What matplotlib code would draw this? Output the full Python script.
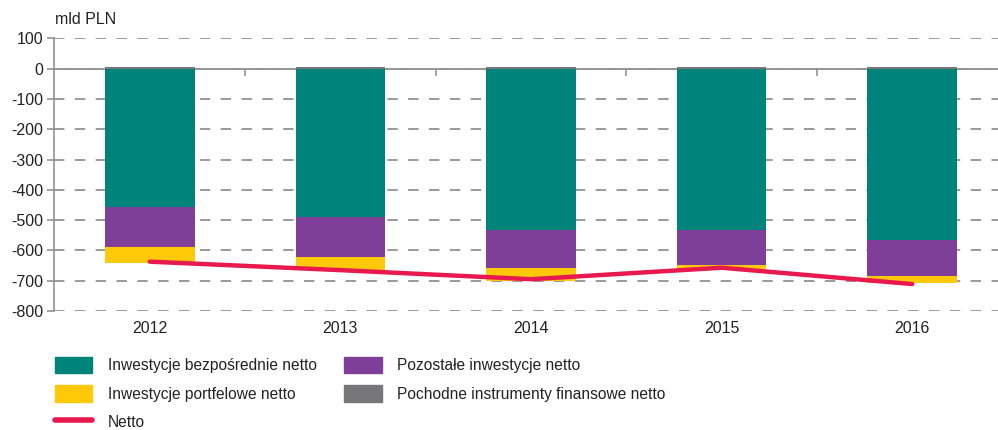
import numpy as np
import matplotlib
matplotlib.use("Agg")
import matplotlib.pyplot as plt
from matplotlib.patches import Patch
from matplotlib.lines import Line2D
from matplotlib.transforms import offset_copy

plt.rcParams['font.family'] = ['Liberation Sans', 'DejaVu Sans']
plt.rcParams['lines.scale_dashes'] = False
plt.rcParams['axes.unicode_minus'] = False

# data (mld PLN)
years = ['2012', '2013', '2014', '2015', '2016']
bezposrednie = [-456, -489, -531, -531, -564]
pozostale = [-132, -132, -127, -117, -120]
portfelowe = [-52, -44, -42, -14, -25]
pochodne = [6, 6, 6, 6, 6]
netto = [-637, -665, -695, -657, -711]

c_teal = '#00837A'
c_purple = '#7F3F98'
c_yellow = '#FFC90A'
c_gray = '#77777A'
c_red = '#E8194F'

fig = plt.figure(figsize=(9.98, 4.30), dpi=100)
ax = fig.add_axes([0.0546, 0.2767, 0.9454, 0.6338])

x = np.arange(len(years))
w = 0.47
b1 = np.array(bezposrednie)
b2 = b1 + np.array(pozostale)
ax.bar(x, bezposrednie, w, color=c_teal, zorder=3)
ax.bar(x, pozostale, w, bottom=b1, color=c_purple, zorder=3)
ax.bar(x, portfelowe, w, bottom=b2, color=c_yellow, zorder=3)
ax.bar(x, pochodne, w, color=c_gray, zorder=3)
ax.plot(x, netto, color=c_red, lw=3.2, solid_capstyle='round', solid_joinstyle='round', zorder=4)

ax.set_ylim(-800, 100)
ax.set_xlim(-0.5, 4.45)
ax.set_yticks(np.arange(-800, 101, 100))
ax.yaxis.grid(True, color='#9a9a9a', lw=1.4, linestyle=(0, (7.5, 7.5)), zorder=0)
ax.axhline(0, color='#8a8a8a', lw=1.3, zorder=1)

for s in ['top', 'right', 'bottom']:
    ax.spines[s].set_visible(False)
ax.spines['left'].set_color('#8a8a8a')
ax.spines['left'].set_linewidth(1.1)
ax.tick_params(axis='y', length=5, width=1.1, color='#8a8a8a', labelsize=11.5,
               labelcolor='#222222', pad=3)

# category separators on zero line
ax.set_xticks(x[:-1] + 0.5)
ax.set_xticklabels([])
ax.tick_params(axis='x', length=0)
ax.vlines(x[:-1] + 0.5, -24, 0, color='#8a8a8a', lw=1.1, zorder=1)

lab_tr = offset_copy(ax.transData, fig=fig, x=0, y=-7, units='points')
for xi, yr in zip(x, years):
    ax.text(xi, -800, yr, transform=lab_tr, ha='center', va='top',
            fontsize=11.5, color='#222222')

fig.text(0.055, 0.955, 'mld PLN', ha='left', va='center', fontsize=11.5, color='#222222')

handles = [
    Patch(color=c_teal, label='Inwestycje bezpośrednie netto'),
    Patch(color=c_yellow, label='Inwestycje portfelowe netto'),
    Line2D([], [], color=c_red, lw=4, solid_capstyle='round', label='Netto'),
    Patch(color=c_purple, label='Pozostałe inwestycje netto'),
    Patch(color=c_gray, label='Pochodne instrumenty finansowe netto'),
]
fig.legend(handles=handles, ncol=2, loc='upper left', bbox_to_anchor=(0.055, 0.17),
           frameon=False, fontsize=11.2, handlelength=2.4, handleheight=1.25,
           handletextpad=1.0, columnspacing=1.78, labelspacing=0.76, labelcolor='#222222',
           borderaxespad=0, borderpad=0)

fig.savefig('out.png', dpi=100)
